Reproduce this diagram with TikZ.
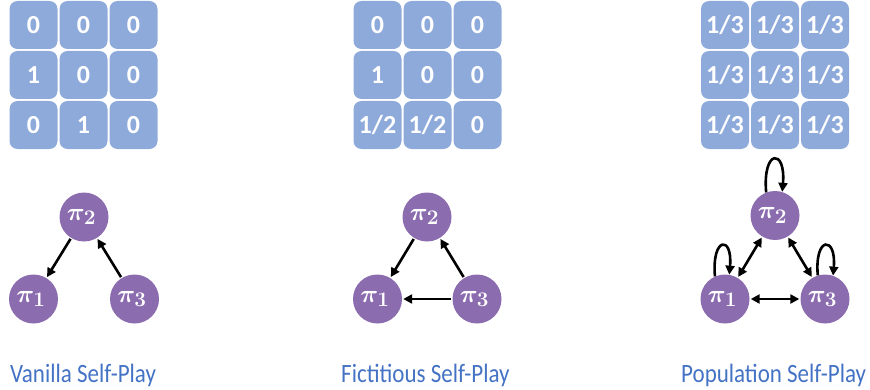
\documentclass[tikz,border=0pt]{standalone}
\usepackage{fontspec}
\setmainfont{Carlito}
\usepackage{amsmath,bm}
\usetikzlibrary{arrows.meta}
\definecolor{cellblue}{HTML}{8EAADB}
\definecolor{nodepurple}{HTML}{8B6CAF}
\definecolor{labelblue}{HTML}{4472C4}
\newcommand{\agentlabel}[1]{\hspace*{-5pt}\raisebox{-4pt}{$\bm{\pi_{#1}}$}}
\newcommand{\captxt}[1]{\scalebox{1}[1.15]{#1}}
\begin{document}
\begin{tikzpicture}[x=1pt,y=1pt,
  cell/.style={fill=cellblue, rounded corners=8pt, minimum width=48pt, minimum height=48pt, inner sep=0pt, text=white, font=\fontsize{26}{30}\selectfont\bfseries},
  agent/.style={circle, fill=nodepurple, minimum size=49pt, inner sep=0pt, text=white, font=\fontsize{28}{32}\selectfont},
  arr/.style={line width=2.6pt, -{Triangle[length=9pt,width=9pt]}, shorten >=1pt, shorten <=1pt},
  biarr/.style={line width=2.6pt, {Triangle[length=9pt,width=9pt]}-{Triangle[length=9pt,width=9pt]}, shorten >=1pt, shorten <=1pt},
  loopy/.style={line width=2.6pt, -{Triangle[length=9pt,width=9pt]}},
  caption/.style={anchor=base west, text=labelblue, inner sep=0pt, font=\fontsize{23}{27}\selectfont}]
\useasboundingbox (0,0) rectangle (870,389);

% grid 1
\node[cell] (g1a) at (33.5,364) {0};
\node[cell] (g1b) at (83.5,364) {0};
\node[cell] (g1c) at (133.5,364) {0};
\node[cell] (g1d) at (33.5,314) {1};
\node[cell] (g1e) at (83.5,314) {0};
\node[cell] (g1f) at (133.5,314) {0};
\node[cell] (g1g) at (33.5,264) {0};
\node[cell] (g1h) at (83.5,264) {1};
\node[cell] (g1i) at (133.5,264) {0};

% grid 2
\node[cell] (g2a) at (377.5,364) {0};
\node[cell] (g2b) at (427.5,364) {0};
\node[cell] (g2c) at (477.5,364) {0};
\node[cell] (g2d) at (377.5,314) {1};
\node[cell] (g2e) at (427.5,314) {0};
\node[cell] (g2f) at (477.5,314) {0};
\node[cell] (g2g) at (377.5,264) {1/2};
\node[cell] (g2h) at (427.5,264) {1/2};
\node[cell] (g2i) at (477.5,264) {0};

% grid 3
\node[cell] (g3a) at (725,364) {1/3};
\node[cell] (g3b) at (775,364) {1/3};
\node[cell] (g3c) at (825,364) {1/3};
\node[cell] (g3d) at (725,314) {1/3};
\node[cell] (g3e) at (775,314) {1/3};
\node[cell] (g3f) at (825,314) {1/3};
\node[cell] (g3g) at (725,264) {1/3};
\node[cell] (g3h) at (775,264) {1/3};
\node[cell] (g3i) at (825,264) {1/3};

% graph 1
\node[agent] (a2) at (84,172) {\agentlabel{2}};
\node[agent] (a1) at (33.5,90) {\agentlabel{1}};
\node[agent] (a3) at (134.5,90) {\agentlabel{3}};
\draw[arr] (a2) -- (a1);
\draw[arr] (a3) -- (a2);

% graph 2
\node[agent] (b2) at (427,172) {\agentlabel{2}};
\node[agent] (b1) at (377.5,90) {\agentlabel{1}};
\node[agent] (b3) at (477,90) {\agentlabel{3}};
\draw[arr] (b2) -- (b1);
\draw[arr] (b3) -- (b2);
\draw[arr] (b3) -- (b1);

% graph 3
\node[agent] (c2) at (775,173.5) {\agentlabel{2}};
\node[agent] (c1) at (725,90) {\agentlabel{1}};
\node[agent] (c3) at (825,90) {\agentlabel{3}};
\draw[biarr] (c1) -- (c2);
\draw[biarr] (c2) -- (c3);
\draw[biarr] (c1) -- (c3);
\draw[loopy] (c2.111) .. controls +(95:44) and +(85:44) .. (c2.73);
\draw[loopy] (c1.114) .. controls +(95:40) and +(85:40) .. (c1.80);
\draw[loopy] (c3.107) .. controls +(95:40) and +(85:40) .. (c3.71);

% captions
\node[caption] (t1) at (10,7) {\captxt{Vanilla Self-Play}};
\node[caption] (t2) at (341,7) {\captxt{Fictitious Self-Play}};
\node[caption] (t3) at (681,7) {\captxt{Population Self-Play}};
\end{tikzpicture}
\end{document}
